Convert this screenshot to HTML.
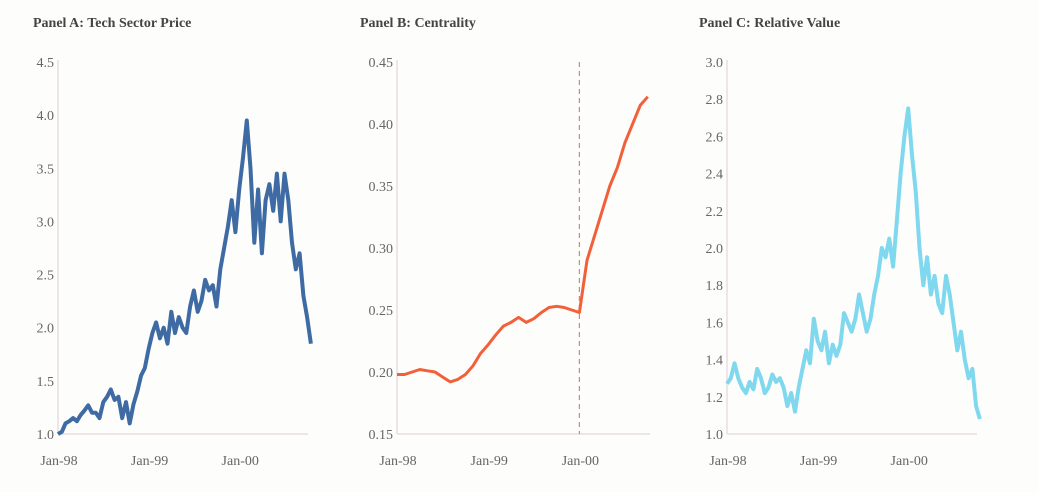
<!DOCTYPE html>
<html><head><meta charset="utf-8"><style>
body{margin:0;background:#fdfdfb;}
svg{display:block;font-family:"Liberation Serif",serif;}
.t{font-weight:bold;font-size:14px;fill:#444;}
.tk{font-size:14px;fill:#666;}
</style></head><body>
<svg id="c" width="1038" height="492"></svg>
<script>
const months = Array.from({length:34},(_,i)=>i);
const halfMonths = Array.from({length:68},(_,i)=>i*0.5);
const xTickLabels = ["Jan-98","Jan-99","Jan-00"];
const xTickMonths = [0,12,24];
const priceValues = [1.0,1.02,1.1,1.12,1.15,1.12,1.18,1.22,1.27,1.2,
1.2,1.15,1.3,1.35,1.42,1.32,1.35,1.15,1.3,1.1,
1.28,1.4,1.55,1.62,1.8,1.95,2.05,1.9,2.0,1.85,
2.15,1.95,2.1,2.0,1.95,2.2,2.35,2.15,2.25,2.45,
2.35,2.4,2.2,2.55,2.75,2.95,3.2,2.9,3.3,3.6,
3.95,3.5,2.8,3.3,2.7,3.2,3.35,3.1,3.45,3.0,
3.45,3.2,2.8,2.55,2.7,2.3,2.1,1.85];
const centralityValues = [0.198,0.198,0.2,0.202,0.201,0.2,0.196,0.192,0.194,0.198,0.205,0.215,0.222,0.23,0.237,0.24,0.244,0.24,0.243,0.248,0.252,0.253,0.252,0.25,0.248,0.29,0.31,0.33,0.35,0.365,0.385,0.40,0.415,0.422];
const relativeValues = [1.27,1.3,1.38,1.3,1.25,1.22,1.28,1.24,1.35,1.3,
1.22,1.25,1.32,1.28,1.3,1.25,1.15,1.22,1.12,1.25,
1.35,1.45,1.38,1.62,1.5,1.45,1.55,1.38,1.48,1.42,
1.48,1.65,1.6,1.55,1.62,1.75,1.65,1.55,1.62,1.75,
1.85,2.0,1.95,2.05,1.9,2.15,2.4,2.6,2.75,2.5,
2.3,2.0,1.8,1.95,1.75,1.85,1.7,1.65,1.85,1.75,
1.6,1.45,1.55,1.4,1.3,1.35,1.15,1.08];
const priceTicks = ["1.0","1.5","2.0","2.5","3.0","3.5","4.0","4.5"];
const centralityTicks = ["0.15","0.20","0.25","0.30","0.35","0.40","0.45"];
const relativeTicks = ["1.0","1.2","1.4","1.6","1.8","2.0","2.2","2.4","2.6","2.8","3.0"];

const NS="http://www.w3.org/2000/svg";
const svg=document.getElementById('c');
function mk(tag,attrs,parent){const e=document.createElementNS(NS,tag);for(const k in attrs)e.setAttribute(k,attrs[k]);(parent||svg).appendChild(e);return e;}

function panel(cfg){
  const g=mk('g',{});
  
  
  const x0=cfg.x0,pxm=cfg.pxPerMonth,top=62,bot=434;
  const ymin=parseFloat(cfg.ticks[0]),ymax=parseFloat(cfg.ticks[cfg.ticks.length-1]);
  const X=m=>x0+m*pxm;
  const Y=v=>bot-(v-ymin)/(ymax-ymin)*(bot-top);
  const title=mk('text',{x:cfg.tx,y:27,class:'t'},g);title.textContent=cfg.title;
  
  
  const ya=mk('line',{x1:x0,y1:top-2,x2:x0,y2:bot,stroke:'#eadde0','stroke-width':1.5},g);
  
  
  const xa=mk('line',{x1:x0,y1:bot,x2:cfg.xEnd,y2:bot,stroke:'#eadde0','stroke-width':1.5},g);
  
  
  cfg.ticks.forEach(t=>{
    const e=mk('text',{x:x0-4,y:Y(parseFloat(t))+5,class:'tk','text-anchor':'end'},g);e.textContent=t;
    
    
  });
  xTickLabels.forEach((l,i)=>{
    const e=mk('text',{x:X(xTickMonths[i])+1,y:465,class:'tk','text-anchor':'middle'},g);e.textContent=l;
    
    
  });
  if(cfg.vline!==undefined){
    const v=mk('line',{x1:X(cfg.vline),y1:top,x2:X(cfg.vline),y2:bot,stroke:'#c98a80','stroke-width':1.2,'stroke-dasharray':'5,4'},g);
    
    
  }
  const d=cfg.values.map((v,i)=>(i?'L':'M')+X(cfg.t[i]).toFixed(1)+','+Y(v).toFixed(1)).join('');
  const p=mk('path',{d:d,fill:'none',stroke:cfg.color,'stroke-width':cfg.sw,'stroke-linejoin':'round'},g);
  
  
}
panel({name:'panel-a',title:'Panel A: Tech Sector Price',tx:33,x0:58,pxPerMonth:7.55,xEnd:308,ticks:priceTicks,t:halfMonths,values:priceValues,color:'#3f6ba4',sw:4,series:'tech-price-line'});
panel({name:'panel-b',title:'Panel B: Centrality',tx:360,x0:397,pxPerMonth:7.6,xEnd:650,ticks:centralityTicks,t:months,values:centralityValues,color:'#f2603a',sw:3,series:'centrality-line',vline:24});
panel({name:'panel-c',title:'Panel C: Relative Value',tx:699,x0:727,pxPerMonth:7.55,xEnd:977,ticks:relativeTicks,t:halfMonths,values:relativeValues,color:'#80d8ef',sw:4,series:'relative-value-line'});
</script>
</body></html>
